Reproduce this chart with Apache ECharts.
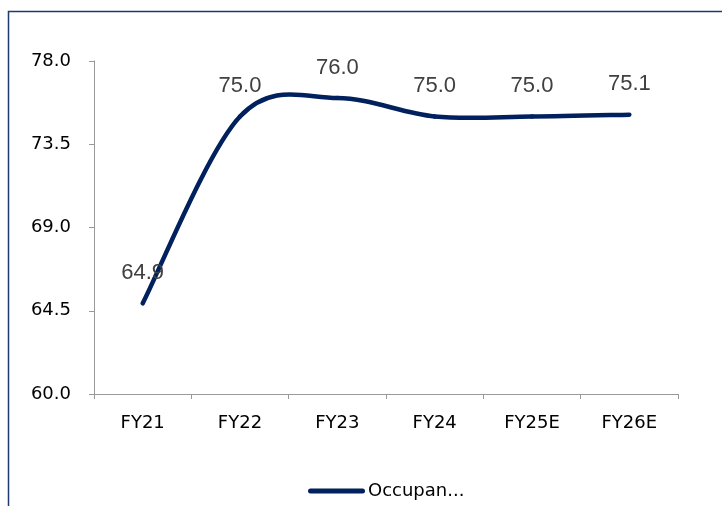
<!DOCTYPE html>
<html>
<head>
<meta charset="utf-8">
<script src="https://cdn.jsdelivr.net/npm/echarts@6/dist/echarts.min.js"></script>
<style>html,body{margin:0;padding:0;background:#fff}#c{width:722px;height:506px}</style>
</head>
<body>
<div id="c"></div>
<script>
var categories = ['FY21', 'FY22', 'FY23', 'FY24', 'FY25E', 'FY26E'];
var occupancy = [64.9, 75.0, 76.0, 75.0, 75.0, 75.1];
var yTicks = { min: 60, max: 78, interval: 4.5 };
var seriesName = 'Occupan...';

var chart = echarts.init(document.getElementById('c'), null, { renderer: 'canvas' });
var lineColor = '#00215E';

function pt(api, i) {
  var j = Math.max(0, Math.min(occupancy.length - 1, i));
  return api.coord([j, occupancy[j]]);
}

chart.setOption({
  animation: false,
  backgroundColor: '#fff',
  graphic: [{
    type: 'rect', silent: true, z: 0,
    shape: { x: 8.5, y: 11.5, width: 800, height: 600 },
    style: { fill: 'none', stroke: '#1F3A6E', lineWidth: 1.5 }
  }],
  grid: { left: 94, right: 44, top: 61, bottom: 112, containLabel: false },
  legend: {
    left: 303, top: 477,
    itemWidth: 57, itemHeight: 5, itemGap: 10,
    data: [{ name: seriesName, icon: 'path://M2.5,0 L54.5,0 A2.5,2.5 0 0 1 54.5,5 L2.5,5 A2.5,2.5 0 0 1 2.5,0 Z', itemStyle: { color: lineColor } }],
    textStyle: { fontFamily: 'DejaVu Sans', fontSize: 18, color: '#000', padding: [0, 0, 0, -2] }
  },
  xAxis: {
    type: 'category', data: categories, boundaryGap: true,
    axisLine: { lineStyle: { color: '#999', width: 1 } },
    axisTick: { show: true, length: 5, alignWithLabel: false, lineStyle: { color: '#999' } },
    axisLabel: { margin: 20, fontFamily: 'DejaVu Sans', fontSize: 18, color: '#000' },
    splitLine: { show: false }
  },
  yAxis: {
    type: 'value', min: yTicks.min, max: yTicks.max, interval: yTicks.interval,
    axisLine: { show: true, lineStyle: { color: '#999', width: 1 } },
    axisTick: { show: true, length: 5, lineStyle: { color: '#999' } },
    axisLabel: { margin: 23, fontFamily: 'DejaVu Sans', fontSize: 18, color: '#000',
      formatter: function (v) { return v.toFixed(1); } },
    splitLine: { show: false }
  },
  series: [{
    name: seriesName,
    type: 'custom',
    color: lineColor,
    data: occupancy.map(function (v, i) { return [i, v]; }),
    encode: { x: 0, y: 1 },
    clip: false,
    renderItem: function (params, api) {
      var i = params.dataIndex;
      if (i >= occupancy.length - 1) return { type: 'group', children: [] };
      var p0 = pt(api, i - 1), p1 = pt(api, i), p2 = pt(api, i + 1), p3 = pt(api, i + 2);
      return {
        type: 'bezierCurve',
        shape: {
          x1: p1[0], y1: p1[1], x2: p2[0], y2: p2[1],
          cpx1: p1[0] + (p2[0] - p0[0]) / 6, cpy1: p1[1] + (p2[1] - p0[1]) / 6,
          cpx2: p2[0] - (p3[0] - p1[0]) / 6, cpy2: p2[1] - (p3[1] - p1[1]) / 6
        },
        style: { stroke: lineColor, lineWidth: 4.5, fill: 'none', lineCap: 'round' }
      };
    }
  }, {
    name: 'labels',
    type: 'scatter',
    data: occupancy.map(function (v, i) { return [i, v]; }),
    symbolSize: 1,
    itemStyle: { color: 'rgba(0,0,0,0)', opacity: 1 },
    silent: true,
    z: 5,
    label: {
      show: true, position: 'top', distance: 19,
      fontFamily: 'Liberation Sans', fontSize: 22, color: '#404040',
      formatter: function (p) { return p.value[1].toFixed(1); }
    }
  }]
});
</script>
</body>
</html>
